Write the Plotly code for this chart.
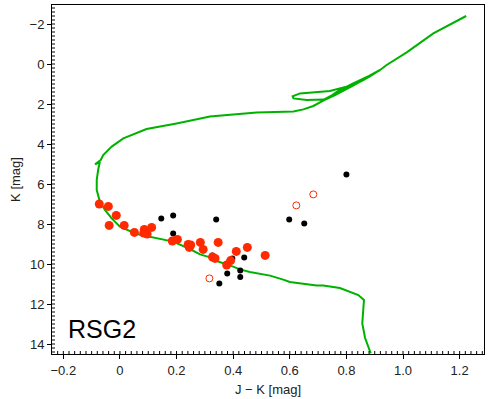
import numpy as np
import plotly.graph_objects as go

# Isochrone track (J-K, K)
iso_jk = [0.886, 0.866, 0.856, 0.862, 0.842, 0.777, 0.718, 0.695, 0.60, 0.577, 0.53, 0.459, 0.424, 0.40,
          0.342, 0.33, 0.283, 0.247, 0.188, 0.118, 0.059, 0.0, -0.029, -0.053, -0.071, -0.082, -0.082,
          -0.077, -0.071, -0.088, -0.068, -0.059, -0.029, 0.012, 0.071, 0.094, 0.2, 0.318, 0.483, 0.565,
          0.613, 0.648, 0.683, 0.718, 0.76, 0.82, 0.88, 0.919, 0.88, 0.82, 0.77, 0.745, 0.72, 0.66, 0.613,
          0.61, 0.636, 0.742, 0.80, 0.86, 0.919, 0.942, 1.013, 1.107, 1.223]
iso_k = [14.47, 13.7, 12.97, 11.8, 11.55, 11.2, 11.08, 11.08, 10.9, 10.78, 10.58, 10.4, 10.27, 10.13,
         9.85, 9.72, 9.52, 9.25, 8.88, 8.68, 8.5, 8.13, 7.72, 7.3, 6.88, 6.3, 5.8,
         5.3, 4.9, 5.02, 4.8, 4.55, 4.13, 3.72, 3.38, 3.25, 2.97, 2.63, 2.42, 2.38,
         2.37, 2.27, 2.1, 1.83, 1.55, 1.1, 0.65, 0.3, 0.6, 1.0, 1.35, 1.6, 1.78, 1.8, 1.72,
         1.62, 1.47, 1.35, 1.13, 0.8, 0.3, 0.05, -0.58, -1.53, -2.4]

# Red filled stars
red_jk = [-0.073, -0.041, -0.013, -0.038, 0.015, 0.051, 0.086, 0.084, 0.096, 0.112, 0.185, 0.203,
          0.241, 0.245, 0.25, 0.284, 0.294, 0.347, 0.327, 0.336, 0.377, 0.391, 0.411, 0.45, 0.513]
red_k = [7.0, 7.12, 7.57, 8.07, 8.07, 8.42, 8.27, 8.45, 8.5, 8.17, 8.85, 8.77,
         9.02, 9.17, 9.05, 8.92, 9.27, 8.92, 9.65, 9.72, 10.05, 9.83, 9.37, 9.17, 9.57]

# Black points
blk_jk = [0.146, 0.188, 0.340, 0.188, 0.326, 0.397, 0.439, 0.379, 0.425, 0.425, 0.598, 0.651, 0.80, 0.351]
blk_k = [7.72, 7.57, 7.77, 8.47, 9.57, 9.73, 9.67, 10.47, 10.32, 10.65, 7.77, 7.97, 5.52, 10.97]

# Red open circles
open_jk = [0.623, 0.683, 0.316]
open_k = [7.07, 6.52, 10.72]

# Tick labels
x_ticks = [-0.2, 0, 0.2, 0.4, 0.6, 0.8, 1.0, 1.2]
x_ticktext = ["\u22120.2", "0", "0.2", "0.4", "0.6", "0.8", "1.0", "1.2"]
y_ticks = [-2, 0, 2, 4, 6, 8, 10, 12, 14]
y_ticktext = ["\u22122", "0", "2", "4", "6", "8", "10", "12", "14"]

X_RANGE = [-0.24, 1.286]
Y_RANGE = [14.5, -2.95]
X_MINOR_STEP = 0.02
Y_MINOR_STEP = 0.2

RED = "#ff2a00"
GREEN = "#00b200"
FONT = dict(family="Liberation Sans", size=13, color="#222")

fig = go.Figure()
fig.add_trace(go.Scatter(x=iso_jk, y=iso_k, mode="lines",
                         line=dict(color=GREEN, width=2), hoverinfo="skip"))
fig.add_trace(go.Scatter(x=blk_jk, y=blk_k, mode="markers",
                         marker=dict(color="black", size=6, line=dict(width=0))))
fig.add_trace(go.Scatter(x=red_jk, y=red_k, mode="markers",
                         marker=dict(color=RED, size=9, line=dict(width=0))))
fig.add_trace(go.Scatter(x=open_jk, y=open_k, mode="markers",
                         marker=dict(color="rgba(0,0,0,0)", size=7,
                                     line=dict(color=RED, width=1))))

axis_common = dict(showgrid=False, zeroline=False, showline=True, linecolor="black", linewidth=1,
                   mirror=True, ticks="outside", ticklen=4, tickcolor="black", tickwidth=1,
                   tickfont=FONT, automargin=False)

fig.update_layout(
    xaxis=dict(range=X_RANGE, tickmode="array", tickvals=x_ticks, ticktext=x_ticktext,
               title=dict(text="J \u2212 K [mag]", font=FONT, standoff=8), **axis_common),
    yaxis=dict(range=Y_RANGE, tickmode="array", tickvals=y_ticks, ticktext=y_ticktext,
               title=dict(text="K [mag]", font=FONT, standoff=6), **axis_common),
)

W, H = 500, 399
ML, MR, MT, MB = 52, 16, 5, 45
plot_w = W - ML - MR
plot_h = H - MT - MB
tick_px = 3

# inner (minor) ticks along the bottom and left axes
shapes = []
for xv in np.arange(-0.24, 1.29, X_MINOR_STEP):
    xv = round(xv, 4)
    if X_RANGE[0] < xv < X_RANGE[1]:
        shapes.append(dict(type="line", xref="x", yref="paper", x0=xv, x1=xv,
                           y0=0, y1=tick_px / plot_h, layer="above",
                           line=dict(color="black", width=1)))
for yv in np.arange(-2.8, 14.5, Y_MINOR_STEP):
    yv = round(yv, 4)
    if Y_RANGE[1] < yv < Y_RANGE[0]:
        shapes.append(dict(type="line", xref="paper", yref="y", x0=0, x1=tick_px / plot_w,
                           y0=yv, y1=yv, layer="above",
                           line=dict(color="black", width=1)))

fig.update_layout(shapes=shapes)

fig.add_annotation(text="RSG2", xref="paper", yref="paper", x=0.033, y=0.025,
                   xanchor="left", yanchor="bottom", showarrow=False,
                   font=dict(family="Liberation Sans", size=25, color="black"))

fig.update_layout(width=W, height=H, showlegend=False,
                  margin=dict(l=ML, r=MR, t=MT, b=MB),
                  plot_bgcolor="white", paper_bgcolor="white")

fig.write_html("out.html", config={"displayModeBar": False},
               post_script="document.body.style.margin='0';document.body.style.padding='0';")
